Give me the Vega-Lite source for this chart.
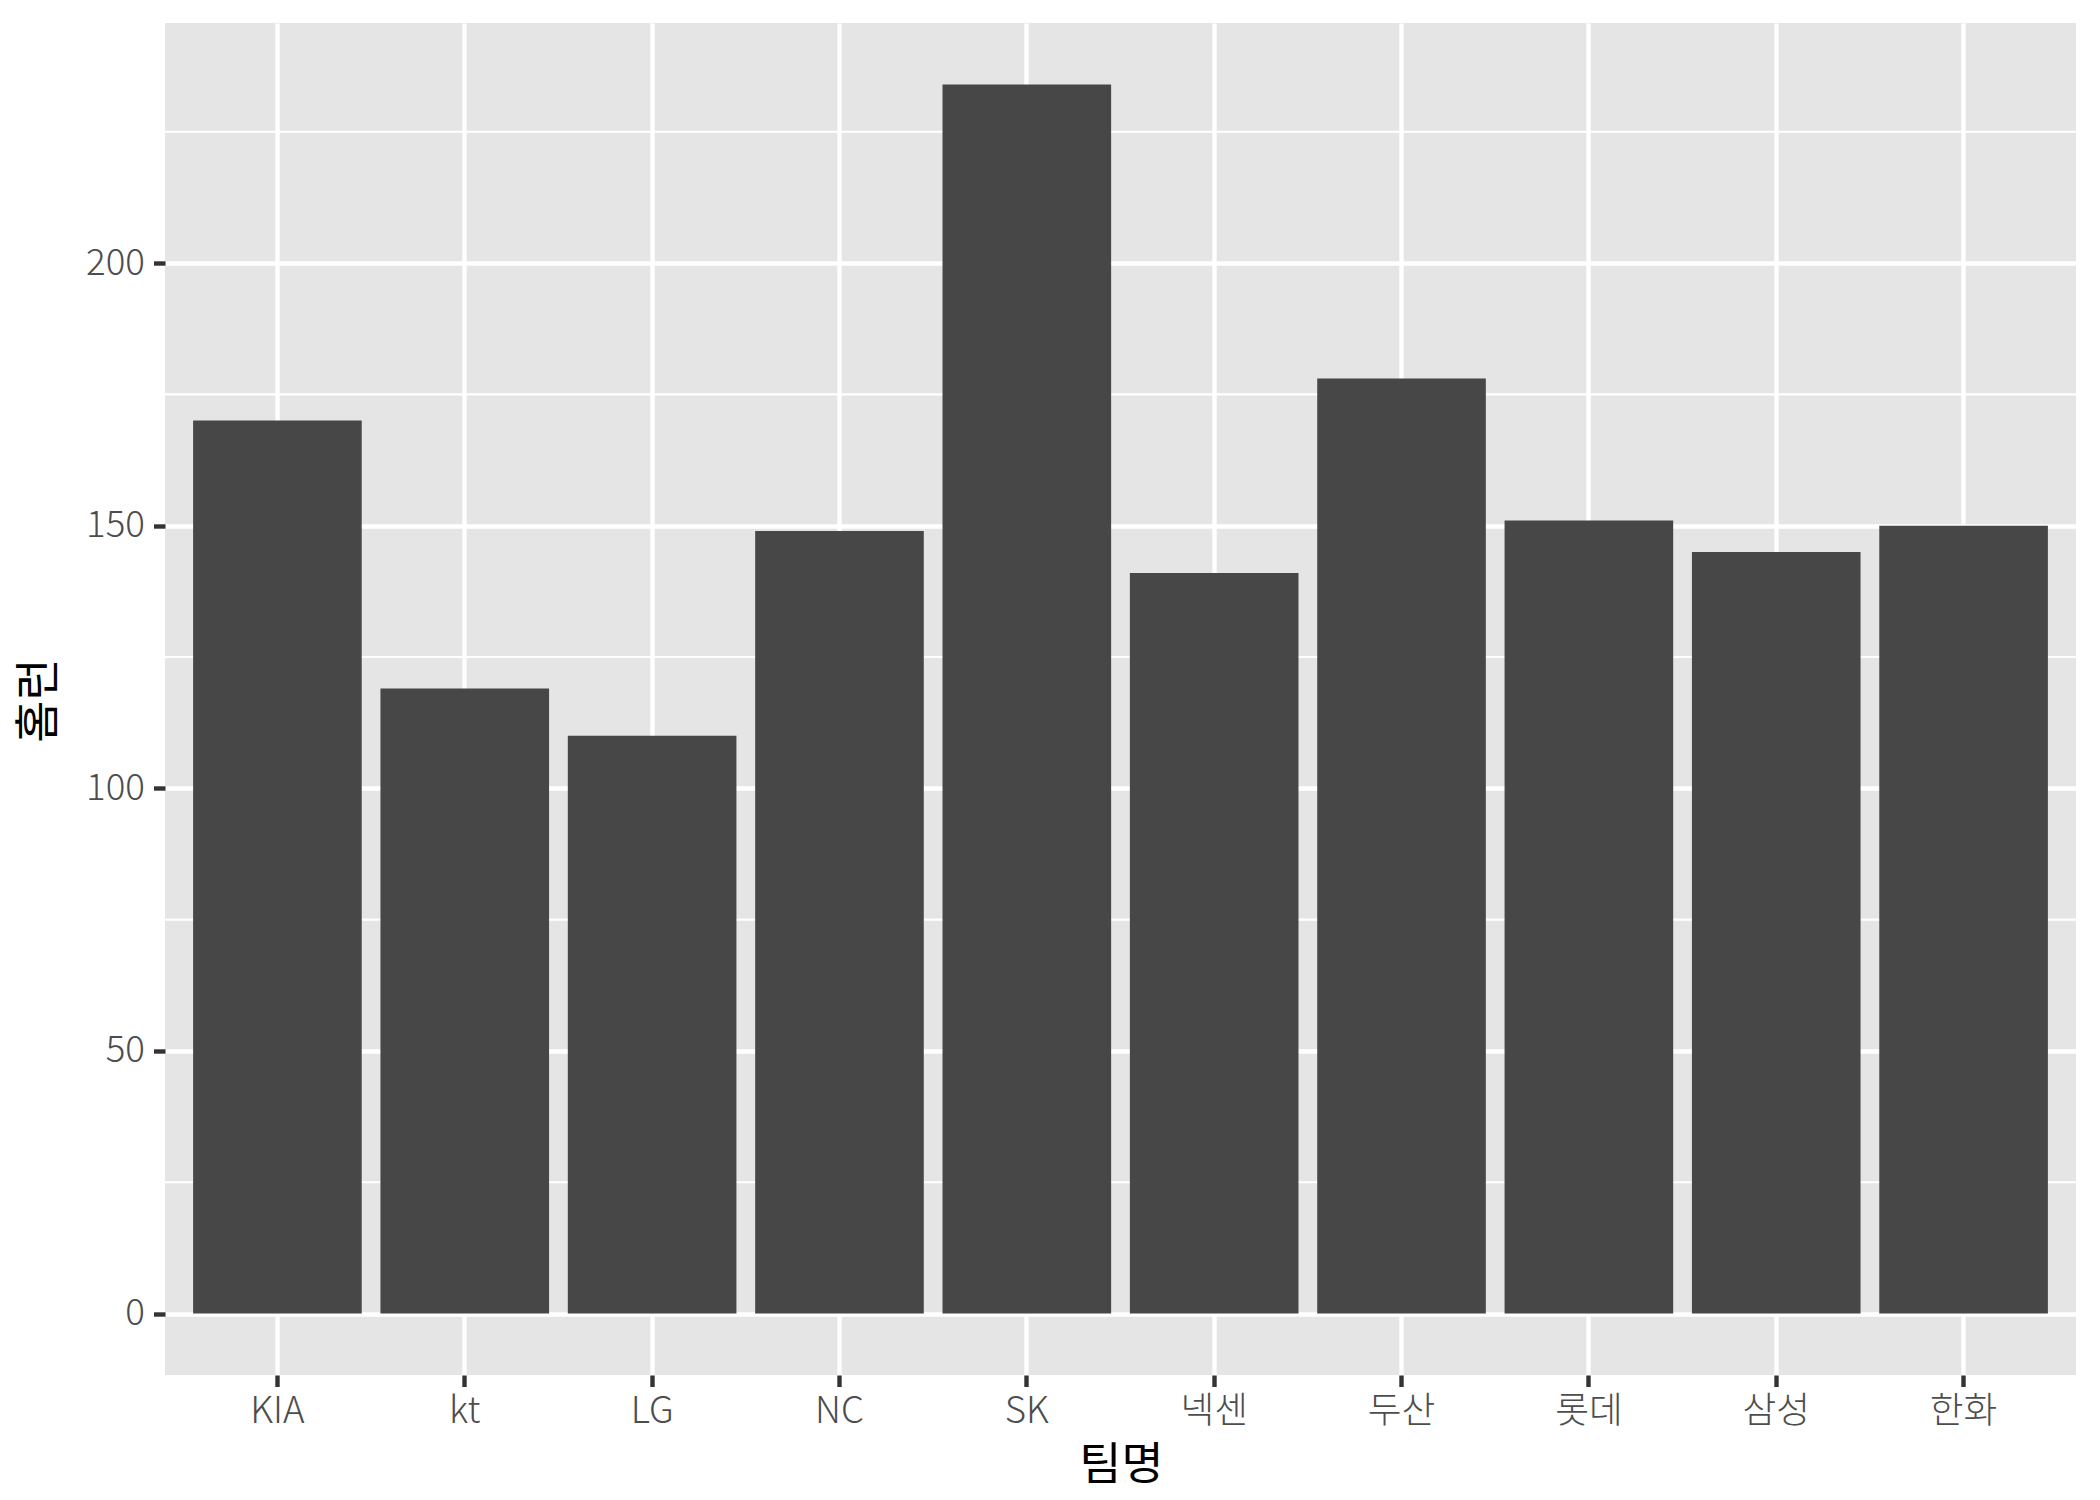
{
  "$schema": "https://vega.github.io/schema/vega-lite/v6.json",
  "width": 1911,
  "height": 1352,
  "autosize": {"type": "none"},
  "padding": {"left": 165, "top": 23, "right": 24, "bottom": 125},
  "background": "white",
  "config": {
    "view": {"fill": "#E5E5E5", "stroke": null},
    "font": "Noto Sans CJK KR"
  },
  "datasets": {
    "hr": [
      {"team": "KIA", "hr": 170},
      {"team": "kt", "hr": 119},
      {"team": "LG", "hr": 110},
      {"team": "NC", "hr": 149},
      {"team": "SK", "hr": 234},
      {"team": "넥센", "hr": 141},
      {"team": "두산", "hr": 178},
      {"team": "롯데", "hr": 151},
      {"team": "삼성", "hr": 145},
      {"team": "한화", "hr": 150}
    ],
    "minor": [{"v": 25}, {"v": 75}, {"v": 125}, {"v": 175}, {"v": 225}]
  },
  "layer": [
    {
      "data": {"name": "minor"},
      "mark": {"type": "rule", "color": "white", "strokeWidth": 2.2},
      "encoding": {
        "y": {
          "field": "v",
          "type": "quantitative",
          "scale": {"domain": [-11.7, 245.7], "nice": false, "zero": false},
          "axis": {
            "title": "홈런",
            "values": [0, 50, 100, 150, 200],
            "domain": false,
            "grid": true,
            "gridColor": "white",
            "gridWidth": 4.4,
            "ticks": true,
            "tickColor": "#333333",
            "tickSize": 11.5,
            "tickWidth": 4.4,
            "labelFontSize": 36.7,
            "labelFontWeight": 300,
            "labelColor": "#4D4D4D",
            "labelPadding": 9,
            "titleFontSize": 45.8,
            "titleFontWeight": "normal",
            "titleColor": "black",
            "titleAngle": -90,
            "titleX": -126,
            "titleY": 677,
            "titleAlign": "center",
            "titleBaseline": "middle"
          }
        }
      }
    },
    {
      "data": {"name": "hr"},
      "mark": {"type": "bar", "color": "#474747"},
      "encoding": {
        "x": {
          "field": "team",
          "type": "nominal",
          "sort": ["KIA", "kt", "LG", "NC", "SK", "넥센", "두산", "롯데", "삼성", "한화"],
          "scale": {"paddingInner": 0.1, "paddingOuter": 0.15},
          "axis": {
            "title": "팀명",
            "domain": false,
            "grid": true,
            "gridColor": "white",
            "gridWidth": 4.4,
            "bandPosition": 0.5,
            "ticks": true,
            "tickColor": "#333333",
            "tickSize": 11.5,
            "tickWidth": 4.4,
            "labelAngle": 0,
            "labelFontSize": 36.7,
            "labelFontWeight": 300,
            "labelColor": "#4D4D4D",
            "labelPadding": 7,
            "titleFontSize": 45.8,
            "titleFontWeight": "normal",
            "titleColor": "black",
            "titleX": 956,
            "titleY": 90,
            "titleAlign": "center",
            "titleBaseline": "middle"
          }
        },
        "y": {
          "field": "hr",
          "type": "quantitative",
          "scale": {"domain": [-11.7, 245.7], "nice": false, "zero": false},
          "axis": {
            "title": "홈런",
            "values": [0, 50, 100, 150, 200],
            "domain": false,
            "grid": true,
            "gridColor": "white",
            "gridWidth": 4.4,
            "ticks": true,
            "tickColor": "#333333",
            "tickSize": 11.5,
            "tickWidth": 4.4,
            "labelFontSize": 36.7,
            "labelFontWeight": 300,
            "labelColor": "#4D4D4D",
            "labelPadding": 9,
            "titleFontSize": 45.8,
            "titleFontWeight": "normal",
            "titleColor": "black",
            "titleAngle": -90,
            "titleX": -126,
            "titleY": 677,
            "titleAlign": "center",
            "titleBaseline": "middle"
          }
        },
        "y2": {"datum": 0}
      }
    }
  ]
}
